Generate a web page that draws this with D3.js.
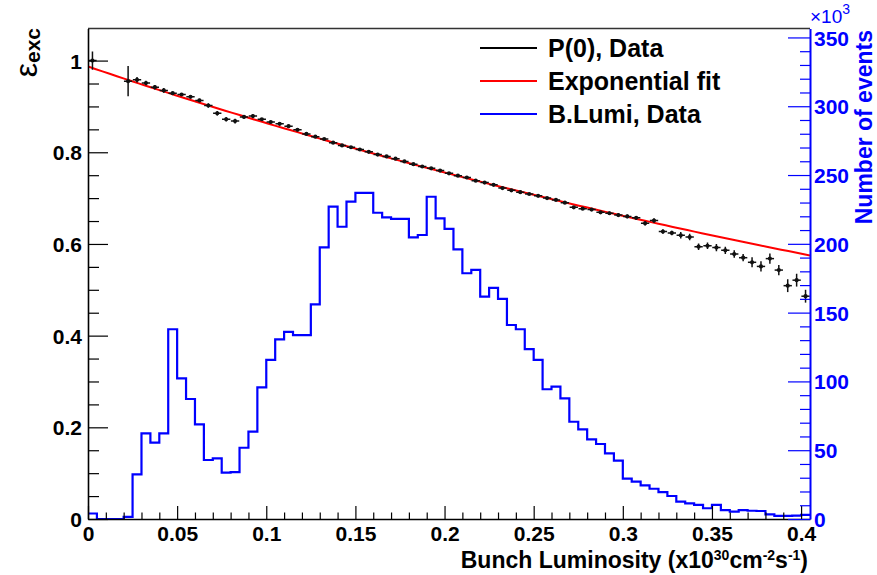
<!DOCTYPE html>
<html>
<head>
<meta charset="utf-8">
<script src="https://cdn.jsdelivr.net/npm/d3@7"></script>
<style>
  body { margin: 0; background: #fff; }
  text { font-family: "Liberation Sans", Arial, Helvetica, sans-serif; }
</style>
</head>
<body>
<script>
// ---------------- DATA ----------------
const binWidth = 0.005;             // bunch luminosity bin width (x10^30 cm^-2 s^-1)
const nBins = 81;                    // bins from 0 to 0.405
// B.Lumi histogram: number of events per bin (x10^3)
const lumiCounts = [4, 0, 0, 0, 1.5, 32.5, 62.3, 55.5, 62.3, 137.9,
  102.2, 87.2, 68.8, 42.9, 44, 33.7, 34, 51.8, 63.5, 95.7,
  115.6, 130.6, 136, 133.7, 133.7, 156, 197.4, 227, 212.4, 230.6,
  237.1, 237.1, 222.6, 219.2, 218.2, 218.2, 204.7, 206.4, 234.2, 218.5,
  210.8, 196, 178.6, 181, 161.6, 168, 160, 141, 137.9, 123.4,
  115.6, 94.3, 96.2, 87.7, 70.7, 65.2, 57.9, 54.5, 47.7, 42.4,
  29.3, 27.1, 24.5, 22, 19.5, 16.7, 12.6, 11.4, 10.2, 7.8,
  10.2, 6.5, 5.3, 6.5, 6, 5.8, 3.4, 2.2, 2.2, 2.5, 3];
// P(0) data per bin (null = empty bin)
const p0Values = [1.000, null, null, null, 0.955, 0.958, 0.951, 0.942, 0.935, 0.929,
  0.926, 0.921, 0.913, 0.902, 0.885, 0.872, 0.868, 0.877, 0.879, 0.872,
  0.866, 0.862, 0.857, 0.849, 0.840, 0.834, 0.829, 0.821, 0.815, 0.811,
  0.806, 0.801, 0.795, 0.791, 0.786, 0.780, 0.774, 0.769, 0.765, 0.760,
  0.754, 0.749, 0.745, 0.738, 0.734, 0.729, 0.722, 0.717, 0.713, 0.709,
  0.705, 0.700, 0.696, 0.690, 0.680, 0.677, 0.675, 0.669, 0.667, 0.663,
  0.660, 0.657, 0.645, 0.651, 0.627, 0.624, 0.619, 0.615, 0.594, 0.596,
  0.592, 0.586, 0.578, 0.570, 0.560, 0.551, 0.568, 0.543, 0.509, 0.521, 0.486];
const p0Errors = [0.020, 0, 0, 0, 0.033, 0.006, 0.005, 0.005, 0.005, 0.003,
  0.003, 0.003, 0.004, 0.005, 0.005, 0.005, 0.005, 0.004, 0.004, 0.003,
  0.003, 0.003, 0.003, 0.002, 0.002, 0.002, 0.002, 0.002, 0.002, 0.002,
  0.002, 0.002, 0.002, 0.002, 0.002, 0.002, 0.002, 0.002, 0.002, 0.002,
  0.002, 0.002, 0.002, 0.002, 0.002, 0.002, 0.002, 0.002, 0.002, 0.002,
  0.002, 0.002, 0.002, 0.003, 0.003, 0.003, 0.003, 0.003, 0.004, 0.004,
  0.004, 0.004, 0.005, 0.005, 0.005, 0.005, 0.007, 0.007, 0.007, 0.007,
  0.008, 0.008, 0.008, 0.008, 0.011, 0.011, 0.011, 0.011, 0.014, 0.014, 0.014];
// Exponential fit parameters: A * exp(-b * L)
const fitParams = [0.987, 1.334];
// Tick labels
const xTicks = [0, 0.05, 0.1, 0.15, 0.2, 0.25, 0.3, 0.35, 0.4];
const xTickLabels = ["0", "0.05", "0.1", "0.15", "0.2", "0.25", "0.3", "0.35", "0.4"];
const yLeftTicks = [0, 0.2, 0.4, 0.6, 0.8, 1];
const yLeftTickLabels = ["0", "0.2", "0.4", "0.6", "0.8", "1"];
const yRightTicks = [0, 50, 100, 150, 200, 250, 300, 350];
const legendLabels = ["P(0), Data", "Exponential fit", "B.Lumi, Data"];
const legendColors = ["#000000", "#ff0000", "#0000ff"];

// ---------------- LAYOUT ----------------
const W = 877, H = 575;
const L = 88, R = 810, T = 28.5, B = 519;
const FONT = 21;

const svg = d3.select("body").append("svg").attr("width", W).attr("height", H);

const x = d3.scaleLinear().domain([0, binWidth * nBins]).range([L, R]);
const yL = d3.scaleLinear().domain([0, 1.07]).range([B, T]);
const yR = d3.scaleLinear().domain([0, 356.5]).range([B, T]);

svg.append("defs").append("clipPath").attr("id", "clip")
  .append("rect").attr("x", L).attr("y", T).attr("width", R - L).attr("height", B - T);

// top frame line
svg.append("line").attr("x1", L).attr("x2", R).attr("y1", T).attr("y2", T)
  .attr("stroke", "#333").attr("stroke-width", 1.4);

// ---------- histogram ----------
const histPts = lumiCounts.map((v, i) => [i * binWidth, v]);
histPts.push([nBins * binWidth, lumiCounts[nBins - 1]]);
svg.append("path")
  .datum(histPts)
  .attr("clip-path", "url(#clip)")
  .attr("fill", "none")
  .attr("stroke", "#0000ff")
  .attr("stroke-width", 2.2)
  .attr("d", d3.line().x(d => x(d[0])).y(d => yR(d[1])).curve(d3.curveStepAfter));

// ---------- fit ----------
const fitX = d3.range(0, 101).map(k => k / 100 * binWidth * nBins);
svg.append("path")
  .datum(fitX)
  .attr("clip-path", "url(#clip)")
  .attr("fill", "none").attr("stroke", "#ff0000").attr("stroke-width", 2)
  .attr("d", d3.line().x(d => x(d)).y(d => yL(fitParams[0] * Math.exp(-fitParams[1] * d))));

// ---------- P(0) data ----------
const p0 = p0Values.map((v, i) => ({ c: (i + 0.5) * binWidth, v, e: p0Errors[i] }))
  .filter(d => d.v !== null);
const gp = svg.append("g").attr("clip-path", "url(#clip)").attr("stroke", "#111").attr("stroke-width", 1.5);
gp.selectAll("line.h").data(p0).join("line").attr("class", "h")
  .attr("x1", d => x(d.c - binWidth / 2) + 0.3).attr("x2", d => x(d.c + binWidth / 2) - 0.3)
  .attr("y1", d => yL(d.v)).attr("y2", d => yL(d.v));
gp.selectAll("line.v").data(p0).join("line").attr("class", "v")
  .attr("x1", d => x(d.c)).attr("x2", d => x(d.c))
  .attr("y1", d => yL(d.v - d.e)).attr("y2", d => yL(d.v + d.e));
gp.selectAll("circle").data(p0).join("circle")
  .attr("cx", d => x(d.c)).attr("cy", d => yL(d.v)).attr("r", 2.1)
  .attr("fill", "#111").attr("stroke", "none");

// ---------- axes ----------
function styleAxis(g, color, fs) {
  g.selectAll("text").attr("font-size", fs).attr("font-weight", "bold")
    .attr("font-family", '"Liberation Sans", Arial, sans-serif').attr("fill", color);
  g.selectAll("line").attr("stroke", color).attr("stroke-width", 1.2);
}

// left
const gLm = svg.append("g").attr("transform", `translate(${L},0)`)
  .call(d3.axisLeft(yL).tickValues(d3.range(0, 21).map(k => k * 0.05).filter(v => Math.abs(v * 5 - Math.round(v * 5)) > 1e-6 || v > 1.01))
    .tickSize(-11).tickFormat(""));
gLm.select(".domain").remove();
styleAxis(gLm, "#000", FONT);
const gL = svg.append("g").attr("transform", `translate(${L},0)`)
  .call(d3.axisLeft(yL).tickValues(yLeftTicks).tickSizeInner(-20).tickSizeOuter(0).tickPadding(6)
    .tickFormat((d, i) => yLeftTickLabels[i]));
gL.select(".domain").attr("stroke", "#000").attr("stroke-width", 1.6);
styleAxis(gL, "#000", FONT);
gL.selectAll("text").attr("dy", "0.36em");

// bottom
const gBm = svg.append("g").attr("transform", `translate(0,${B})`)
  .call(d3.axisBottom(x).tickValues(d3.range(0, 41).map(k => k * 0.01).filter((v, k) => k % 5 !== 0))
    .tickSize(-6.5).tickFormat(""));
gBm.select(".domain").remove();
styleAxis(gBm, "#000", FONT);
const gB = svg.append("g").attr("transform", `translate(0,${B})`)
  .call(d3.axisBottom(x).tickValues(xTicks).tickSizeInner(-13).tickSizeOuter(0).tickPadding(7)
    .tickFormat((d, i) => xTickLabels[i]));
gB.select(".domain").attr("stroke", "#000").attr("stroke-width", 1.6);
styleAxis(gB, "#000", FONT);

// right
const gRm = svg.append("g").attr("transform", `translate(${R},0)`)
  .call(d3.axisRight(yR).tickValues(d3.range(0, 36).map(k => k * 10).filter(v => v % 50 !== 0))
    .tickSize(-10).tickFormat(""));
gRm.select(".domain").remove();
styleAxis(gRm, "#0000ff", FONT);
const gR = svg.append("g").attr("transform", `translate(${R},0)`)
  .call(d3.axisRight(yR).tickValues(yRightTicks).tickSizeInner(-22).tickSizeOuter(0).tickPadding(4)
    .tickFormat(d3.format("d")));
gR.select(".domain").attr("stroke", "#0000ff").attr("stroke-width", 2);
styleAxis(gR, "#0000ff", FONT);
gR.selectAll("text").attr("dy", "0.36em");

// ---------- axis titles ----------
// x10^3 multiplier
const mult = svg.append("text").attr("x", 810).attr("y", 23).attr("fill", "#0000ff")
  .attr("font-size", 19);
mult.append("tspan").text("×10");
mult.append("tspan").attr("dy", -9).attr("font-size", 14).text("3");

// right title
svg.append("text")
  .attr("transform", "translate(872,30) rotate(-90)")
  .attr("text-anchor", "end")
  .attr("fill", "#0000ff").attr("font-size", 23).attr("font-weight", "bold")
  .text("Number of events");

// left title epsilon_exc
const ylab = svg.append("text")
  .attr("transform", "translate(37,28) rotate(-90)")
  .attr("text-anchor", "end").attr("fill", "#000");
ylab.append("tspan").attr("font-size", 32).text("ε");
ylab.append("tspan").attr("font-size", 21).attr("font-weight", "bold").attr("dy", 3).text("exc");

// x title
const xt = svg.append("text").attr("x", 808).attr("y", 568).attr("text-anchor", "end")
  .attr("font-size", 23).attr("font-weight", "bold").attr("fill", "#000");
xt.append("tspan").text("Bunch Luminosity (x10");
xt.append("tspan").attr("font-size", 14).attr("dy", -8).text("30");
xt.append("tspan").attr("dy", 8).text("cm");
xt.append("tspan").attr("font-size", 14).attr("dy", -8).text("-2");
xt.append("tspan").attr("dy", 8).text("s");
xt.append("tspan").attr("font-size", 14).attr("dy", -8).text("-1");
xt.append("tspan").attr("dy", 8).text(")");

// ---------- legend ----------
const lg = svg.append("g");
legendLabels.forEach((lab, i) => {
  const yy = 48 + i * 33;
  lg.append("line").attr("x1", 480).attr("x2", 537).attr("y1", yy).attr("y2", yy)
    .attr("stroke", legendColors[i]).attr("stroke-width", 2);
  lg.append("text").attr("x", 548).attr("y", yy).attr("dy", "0.36em")
    .attr("font-size", 25).attr("font-weight", "bold").attr("fill", "#000").text(lab);
});
</script>
</body>
</html>
